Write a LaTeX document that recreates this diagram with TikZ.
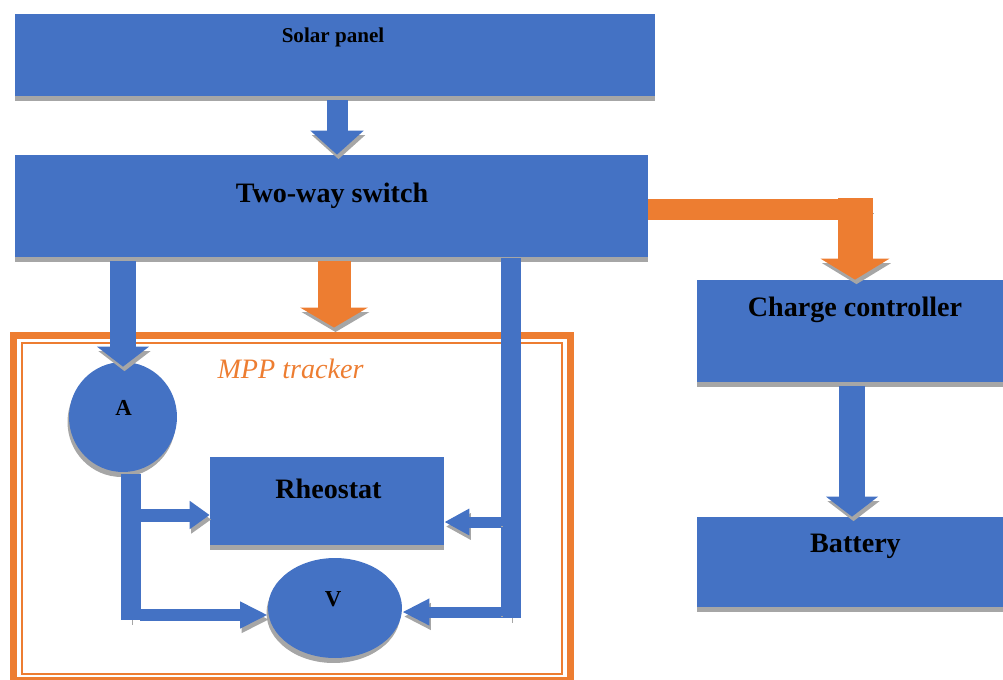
\documentclass[tikz,border=0pt]{standalone}
\usepackage{fontspec}
\setmainfont{Liberation Serif}
\usetikzlibrary{arrows.meta,shapes.geometric,shadows}

\definecolor{boxblue}{HTML}{4472C4}
\definecolor{mpporange}{HTML}{ED7D31}
\definecolor{shadowgray}{HTML}{A6A6A6}

\tikzset{
  block/.style={rectangle, fill=boxblue, inner sep=0pt,
    drop shadow={shadow xshift=0cm, shadow yshift=-0.1cm, fill=shadowgray, opacity=1}},
  meter/.style={ellipse, fill=boxblue, inner sep=0pt,
    drop shadow={shadow xshift=-0.03cm, shadow yshift=-0.1cm, fill=shadowgray, opacity=1}},
  frame/.style={rectangle, draw=mpporange, inner sep=0pt},
  lbl/.style={anchor=base, font=\bfseries\fontsize{16}{18}\selectfont},
  meterlbl/.style={anchor=base, font=\bfseries\fontsize{13}{15}\selectfont},
  mpplbl/.style={anchor=base, text=mpporange, font=\itshape\fontsize{16}{18}\selectfont},
  shaded/.style={preaction={draw=shadowgray, transform canvas={xshift=0.03cm, yshift=-0.09cm}}},
  bflow/.style={draw=boxblue, shaded},
  oflow/.style={draw=mpporange, shaded}
}

\begin{document}
\begin{tikzpicture}[x=0.02cm, y=-0.02cm]
\useasboundingbox (0,0) rectangle (1003,679);

\node[block, minimum width=12.8cm, minimum height=1.64cm] (solar) at (335,55) {};
\node[block, minimum width=12.66cm, minimum height=2.04cm] (switch) at (331.5,206) {};
\node[block, minimum width=6.32cm, minimum height=2.04cm] (charger) at (855,331) {};
\node[block, minimum width=6.32cm, minimum height=1.8cm] (battery) at (855,562) {};

\node[frame, line width=0.14cm, minimum width=11.16cm, minimum height=6.92cm] (mppout) at (292,508) {};
\node[frame, line width=0.04cm, minimum width=10.8cm, minimum height=6.63cm] (mppin) at (292,508.75) {};

\node[block, minimum width=4.68cm, minimum height=1.76cm] (rheostat) at (327,501) {};
\node[meter, minimum width=2.16cm, minimum height=2.2cm] (ammeter) at (123,417) {};
\node[meter, minimum width=2.68cm, minimum height=2cm] (voltmeter) at (335,608) {};

\node[lbl, font=\bfseries\fontsize{12}{14}\selectfont] (solartxt) at (333,43) {Solar panel};
\node[lbl] (switchtxt) at (332,202) {Two-way switch};
\node[lbl] (chargertxt) at (855,316) {Charge controller};
\node[lbl] (batterytxt) at (855.5,552) {Battery};
\node[lbl] (rheostattxt) at (328.5,498) {Rheostat};
\node[meterlbl] (ammetertxt) at (123.5,415) {A};
\node[meterlbl] (voltmetertxt) at (333,606) {V};
\node[mpplbl] (mpptxt) at (290.5,378) {MPP tracker};

\coordinate (turn) at (charger.north |- 0,209);
\coordinate (atop) at (131,474);
\coordinate (abot) at (131,620);
\coordinate (rtop) at (511,258);
\coordinate (rbot) at (511,618);

\draw[bflow, line width=0.42cm, -{Triangle[width=1.04cm,length=0.48cm]}, shorten <=0.08cm] (solar.south -| 337,0) -- (switch.north -| 337,0);
\draw[oflow, line width=0.42cm] (switch.east |- turn) -- ([xshift=0.34cm]turn);
\draw[oflow, line width=0.7cm, -{Triangle[width=1.36cm,length=0.42cm]}] ([yshift=0.22cm]turn) -- (charger.north);
\draw[bflow, line width=0.52cm, -{Triangle[width=1.02cm,length=0.4cm]}, shorten <=0.08cm] (charger.south -| 852,0) -- (battery.north -| 852,0);
\draw[oflow, line width=0.66cm, -{Triangle[width=1.34cm,length=0.4cm]}, shorten <=0.08cm, shorten >=0.08cm] (switch.south -| 334,0) -- (mppout.north -| 334,0);
\draw[bflow, line width=0.54cm, -{Triangle[width=1.02cm,length=0.4cm]}, shorten <=0.08cm] (switch.south -| ammeter.north) -- ([yshift=-0.1cm]ammeter.north);

\draw[bflow, line width=0.4cm] (atop) -- (abot);
\draw[bflow, line width=0.26cm, -{Triangle[width=0.54cm,length=0.4cm]}] (140,515) -- (rheostat.west |- 0,515);
\draw[bflow, line width=0.24cm, -{Triangle[width=0.5cm,length=0.55cm]}] (140,615) -- (voltmeter.west |- 0,615);
\draw[bflow, line width=0.4cm] (rtop) -- (rbot);
\draw[bflow, line width=0.22cm, -{Triangle[width=0.5cm,length=0.5cm]}] (501,522) -- (rheostat.east |- 0,522);
\draw[bflow, line width=0.22cm, -{Triangle[width=0.5cm,length=0.54cm]}] (501,612) -- (voltmeter.east |- 0,612);
\end{tikzpicture}
\end{document}
